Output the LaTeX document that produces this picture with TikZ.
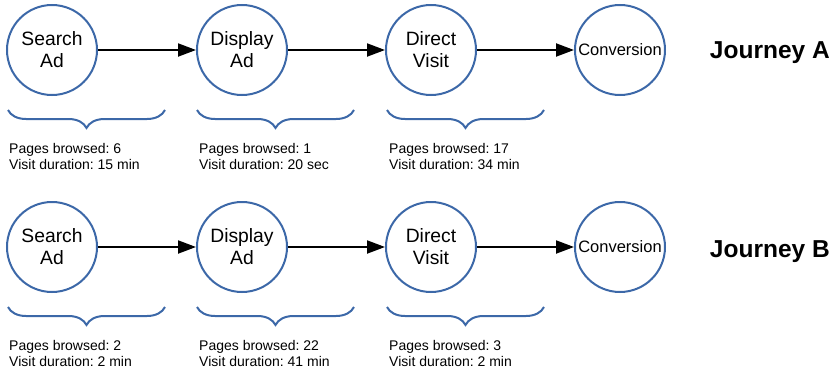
\documentclass[tikz,border=0pt]{standalone}
\usepackage{fontspec}
\setmainfont{Liberation Sans}
\frenchspacing
\usetikzlibrary{arrows.meta,decorations.pathreplacing,positioning}
\definecolor{journeyBlue}{RGB}{60,104,168}
\tikzset{
  touchNode/.style={draw=journeyBlue, line width=2pt, circle, minimum size=90pt, inner sep=0pt, align=center, font=\fontsize{19.3}{22}\selectfont},
  convNode/.style={touchNode, font=\fontsize{16.5}{19}\selectfont},
  touchArrow/.style={-{Triangle[length=18pt,width=13pt]}, line width=2pt},
  touchBrace/.style={decorate, decoration={brace, mirror, amplitude=18pt}, draw=journeyBlue, line width=2pt},
  statsLabel/.style={anchor=west, align=left, inner sep=0pt, font=\fontsize{14}{16}\selectfont},
  journeyLabel/.style={anchor=east, inner sep=0pt, font=\fontsize{24.5}{28}\selectfont\bfseries}
}

\begin{document}
\begin{tikzpicture}[x=1pt, y=-1pt]
      \useasboundingbox (0,0) rectangle (833,372);

      % Journey A
      \node[touchNode] (searchA) at (52,50) {Search\\Ad};
      \node[touchNode] (displayA) at (242,50) {Display\\Ad};
      \node[touchNode] (directA) at (431,50) {Direct\\Visit};
      \node[convNode] (convA) at (620,50) {Conversion};
      \node[journeyLabel] (journeyA) at (830,53) {Journey A};
      \draw[touchArrow] (searchA) -- (displayA);
      \draw[touchArrow] (displayA) -- (directA);
      \draw[touchArrow] (directA) -- (convA);

      \draw[touchBrace] (8,110) -- (165,110);
      \draw[touchBrace] (197,110) -- (354,110);
      \draw[touchBrace] (387,110) -- (544,110);
      \node[statsLabel] (statsA1) at (9,156) {Pages browsed: 6\\Visit duration: 15 min};
      \node[statsLabel] (statsA2) at (199,156) {Pages browsed: 1\\Visit duration: 20 sec};
      \node[statsLabel] (statsA3) at (389,156) {Pages browsed: 17\\Visit duration: 34 min};

      % Journey B
      \node[touchNode] (searchB) at (52,247) {Search\\Ad};
      \node[touchNode] (displayB) at (242,247) {Display\\Ad};
      \node[touchNode] (directB) at (431,247) {Direct\\Visit};
      \node[convNode] (convB) at (620,247) {Conversion};
      \node[journeyLabel] (journeyB) at (830,252) {Journey B};
      \draw[touchArrow] (searchB) -- (displayB);
      \draw[touchArrow] (displayB) -- (directB);
      \draw[touchArrow] (directB) -- (convB);

      \draw[touchBrace] (8,307) -- (165,307);
      \draw[touchBrace] (197,307) -- (354,307);
      \draw[touchBrace] (387,307) -- (544,307);
      \node[statsLabel] (statsB1) at (9,353) {Pages browsed: 2\\Visit duration: 2 min};
      \node[statsLabel] (statsB2) at (199,353) {Pages browsed: 22\\Visit duration: 41 min};
      \node[statsLabel] (statsB3) at (389,353) {Pages browsed: 3\\Visit duration: 2 min};
    \end{tikzpicture}
\end{document}
